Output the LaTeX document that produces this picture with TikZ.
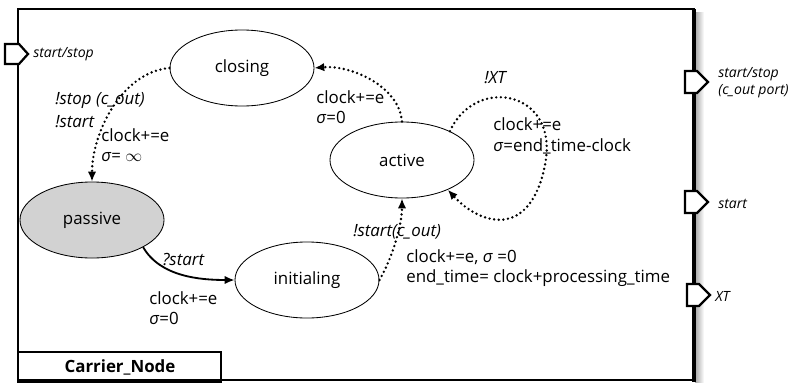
\documentclass[tikz,border=0pt]{standalone}
\usepackage{fontspec}
\setmainfont{Open Sans}
\usetikzlibrary{shapes.geometric,arrows.meta}

\tikzset{
  state/.style={ellipse,draw,line width=0.6pt,minimum width=3.6cm,minimum height=1.9cm,
    inner sep=0pt,font=\fontsize{12}{14}\selectfont},
  dottrans/.style={line width=1.9pt,dash pattern=on 0pt off 3.3pt,line cap=round,
    -{Latex[length=7pt,width=6pt]}},
  solidtrans/.style={line width=1.3pt,-{Latex[length=7pt,width=6pt]}},
  lbl/.style={anchor=west,inner sep=0pt,align=left,font=\fontsize{12}{14.4}\selectfont},
  cond/.style={lbl,font=\fontsize{12}{14.4}\selectfont\itshape},
  portlbl/.style={anchor=west,inner sep=0pt,align=left,font=\fontsize{10}{12}\selectfont\itshape},
  port/.style={line width=1.6pt,fill=white,line join=miter}
}

\begin{document}
\begin{tikzpicture}[x=0.025cm,y=-0.025cm]
    \useasboundingbox (0,0) rectangle (803,382);
    % frame of the coupled model
    \shade[left color=gray!70,right color=white] (695,12) rectangle (704,382);
    \draw[line width=1.6pt,fill=white] (18,9) rectangle (694,380);
    \draw[line width=2.4pt] (694,9) -- (694,382);
    \draw[line width=1.6pt] (18,352) rectangle (221,382);
    \node[font=\fontsize{12}{14}\selectfont\bfseries] (name) at (120,367) {Carrier\_Node};
    % ports
    \draw[port] (5,44) -- (19,44) -- (28,54) -- (19,64) -- (5,64) -- cycle;
    \foreach \px/\py in {685/82, 685/202, 687/295}
      \draw[port] (\px,\py-11) -- ++(12,0) -- ++(11,11) -- ++(-11,11) -- ++(-12,0) -- cycle;
    \node[portlbl] (inss) at (33,54) {start/stop};
    \node[portlbl] (outss) at (718,83) {start/stop\\(c\_out port)};
    \node[portlbl] (outst) at (718,204) {start};
    \node[portlbl] (outxt) at (715,296) {XT};
    % states
    \node[state] (closing) at (242,68) {closing};
    \node[state] (active) at (402,160) {active};
    \node[state,fill=gray!35] (passive) at (92,220) {passive};
    \node[state] (init) at (307,280) {initialing};
    % transitions
    \draw[dottrans] (closing.west) to[out=185,in=90,looseness=0.9] (passive.north);
    \draw[dottrans] (active.north) to[out=95,in=5,looseness=0.9] (closing.east);
    \draw[solidtrans] (passive.-28) to[out=-60,in=180,looseness=0.9] (init.west);
    \draw[dottrans] (init.east) to[out=60,in=-90,looseness=0.8] (active.south);
    \draw[dottrans] (active.31) .. controls (475,75) and (560,90) .. (545,165)
      .. controls (530,240) and (480,225) .. (active.-33);
    % labels
    \node[cond] (stopout) at (55,100) {!stop (c\_out)};
    \node[cond] (stopst) at (55,122) {!start};
    \node[lbl] (closeact) at (101,145) {clock+=e\\\textit{σ}= $\infty$};
    \node[lbl] (actclose) at (316,107) {clock+=e\\\textit{σ}=0};
    \node[cond] (xt) at (484,78) {!XT};
    \node[lbl] (actact) at (493,136) {clock+=e\\\textit{σ}=end\_time-clock};
    \node[cond] (qstart) at (162,260) {?start};
    \node[lbl] (passinit) at (149,308) {clock+=e\\\textit{σ}=0};
    \node[cond] (startout) at (353,232) {!start(c\_out)};
    \node[lbl] (initact) at (406,268) {clock+=e, \textit{σ} =0\\end\_time= clock+processing\_time};
\end{tikzpicture}
\end{document}
